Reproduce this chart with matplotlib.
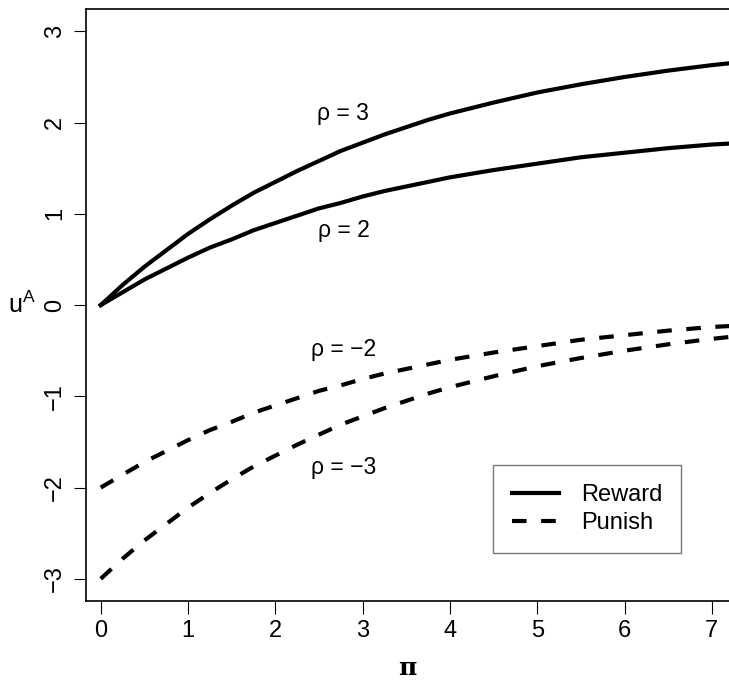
import matplotlib
matplotlib.use("Agg")
import matplotlib.pyplot as plt

plt.rcParams["font.family"] = ["Liberation Sans", "DejaVu Sans"]
plt.rcParams["mathtext.fontset"] = "custom"
plt.rcParams["mathtext.rm"] = "Liberation Sans"
plt.rcParams["mathtext.it"] = "Liberation Sans"

# values
pi_vals = [0, 0.25, 0.5, 0.75, 1, 1.25, 1.5, 1.75, 2, 2.25, 2.5, 2.75, 3, 3.25,
           3.5, 3.75, 4, 4.5, 5, 5.5, 6, 6.5, 7, 7.2]
reward_rho3 = [0, 0.22, 0.42, 0.60, 0.78, 0.94, 1.09, 1.23, 1.35, 1.47, 1.58, 1.69,
               1.78, 1.87, 1.95, 2.03, 2.10, 2.22, 2.33, 2.42, 2.50, 2.57, 2.63, 2.65]
reward_rho2 = [0, 0.14, 0.28, 0.40, 0.52, 0.63, 0.72, 0.82, 0.90, 0.98, 1.06, 1.12,
               1.19, 1.25, 1.30, 1.35, 1.40, 1.48, 1.55, 1.62, 1.67, 1.72, 1.76, 1.77]
punish_rho2 = [-2, -1.86, -1.72, -1.60, -1.48, -1.37, -1.28, -1.18, -1.10, -1.02,
               -0.94, -0.88, -0.81, -0.75, -0.70, -0.65, -0.60, -0.52, -0.45, -0.38,
               -0.33, -0.28, -0.24, -0.23]
punish_rho3 = [-3, -2.78, -2.58, -2.40, -2.22, -2.06, -1.91, -1.77, -1.65, -1.53,
               -1.42, -1.31, -1.22, -1.13, -1.05, -0.97, -0.90, -0.78, -0.67, -0.58,
               -0.50, -0.43, -0.37, -0.35]

labels = ["ρ = 3", "ρ = 2", "ρ = −2", "ρ = −3"]
label_pos = [(2.78, 2.10), (2.78, 0.82), (2.78, -0.49), (2.78, -1.78)]

fig = plt.figure(figsize=(7.29, 6.84), dpi=100)
ax = fig.add_axes([0.1176, 0.1218, 0.8824, 0.865])

lw = 3
ax.plot(pi_vals, reward_rho3, "-", color="black", lw=lw, label="Reward")
ax.plot(pi_vals, reward_rho2, "-", color="black", lw=lw)
ax.plot(pi_vals, punish_rho2, color="black", lw=lw, dashes=(3.5, 3.5), label="Punish")
ax.plot(pi_vals, punish_rho3, color="black", lw=lw, dashes=(3.5, 3.5))

for txt, (x, y) in zip(labels, label_pos):
    ax.text(x, y, txt, ha="center", va="center", fontsize=16.5)

ax.set_xlim(-0.172, 7.197)
ax.set_ylim(-3.24, 3.245)
ax.set_xticks(range(0, 8))
ax.set_yticks(range(-3, 4))
ax.set_yticklabels([str(v).replace("-", "−") for v in range(-3, 4)],
                   rotation=90, va="center")
ax.tick_params(labelsize=17, length=9, width=0.8, pad=5)
ax.spines["right"].set_visible(False)
for s in ["left", "top", "bottom"]:
    ax.spines[s].set_linewidth(1.2)

ax.set_xlabel("π", fontsize=18, fontweight="bold", family="DejaVu Serif", labelpad=10)
ax.set_ylabel(r"$\mathrm{u}^{\mathrm{A}}$", fontsize=18, rotation=0,
              va="center", labelpad=16)

leg = ax.legend(loc="upper left", bbox_to_anchor=(0.6337, 0.2285), fontsize=17,
                frameon=True, fancybox=False, handlelength=2.0, handletextpad=0.9,
                borderpad=0.8, labelspacing=0.25, borderaxespad=0)
leg.get_frame().set_edgecolor("#555555")
leg.get_frame().set_linewidth(1.0)

fig.savefig("out.png", dpi=100)
